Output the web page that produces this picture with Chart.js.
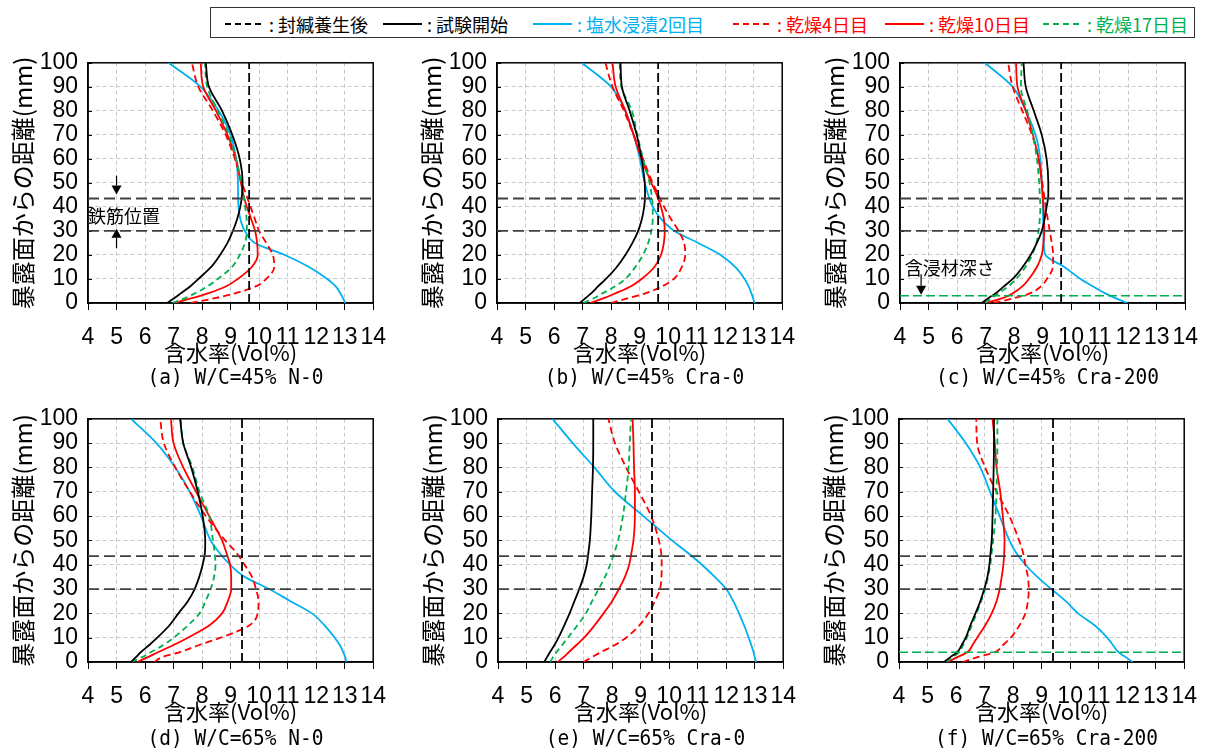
<!DOCTYPE html>
<html lang="ja">
<head>
<meta charset="utf-8">
<title>暴露面からの距離と含水率</title>
<script src="https://cdn.jsdelivr.net/npm/chart.js@4.4.1/dist/chart.umd.min.js"></script>
<style>
  html, body { margin: 0; padding: 0; background: #fff; }
  #page { position: relative; width: 1215px; height: 751px; overflow: hidden; }
  #page canvas { position: absolute; }
  .cap { position: absolute; width: 295px; text-align: center; font: 22px 'DejaVu Sans Mono', monospace;
         line-height: 22px; color: #000; transform: scaleX(0.886); white-space: pre; }
  #legendBox { position: absolute; left: 210px; top: 7px; width: 983px; height: 29px; border: 1.5px solid #333; }
  .item { position: absolute; top: 9px; height: 30px; display: flex; align-items: center;
          font: 18px 'Noto Sans CJK JP', sans-serif; white-space: nowrap; }
  .swatch { display: inline-block; width: 39px; height: 2px; margin-right: 5px; }
  .colon { margin-right: 4px; }
</style>
</head>
<body>
<div id="page">
  <div id="legendBox"></div>
</div>
<script>
/* 含水率分布 — 6 panels, depth (mm) vs moisture (Vol%) */

const DEPTH = [0, 2, 4, 7, 10, 15, 20, 25, 30, 35, 40, 45, 50, 60, 70, 80, 90, 100];
const X_MIN = 4, X_MAX = 14;
const Y_MIN = 0, Y_MAX = 100;

const SERIES_NAMES = ['封緘養生後', '試験開始', '塩水浸漬2回目', '乾燥4日目', '乾燥10日目', '乾燥17日目'];
const CAPTIONS = ['(a) W/C=45% N-0', '(b) W/C=45% Cra-0', '(c) W/C=45% Cra-200',
                  '(d) W/C=65% N-0', '(e) W/C=65% Cra-0', '(f) W/C=65% Cra-200'];
const SEALED = [9.65, 9.65, 9.65, 9.4, 9.4, 9.4];     // 封緘養生後 (uniform)
const REBAR = [30, 43.5];                             // 鉄筋位置
const IMPREG = [null, null, 3, null, null, 4];        // 含浸材深さ

// (a) W/C=45% N-0
const startA = [6.77, 7.02, 7.25, 7.59, 7.87, 8.32, 8.63, 8.89, 9.08, 9.23, 9.34, 9.40, 9.42, 9.32, 9.06, 8.70, 8.24, 8.13];
const saltA  = [13.02, 12.94, 12.85, 12.68, 12.39, 11.75, 10.9, 9.85, 9.5, 9.34, 9.28, 9.26, 9.26, 9.19, 9.0, 8.58, 7.95, 6.82];
const dry4A  = [7.6, 8.45, 9.15, 9.9, 10.25, 10.53, 10.48, 10.25, 10.0, 9.85, 9.70, 9.55, 9.40, 9.15, 8.83, 8.38, 7.87, 7.64];
const dry10A = [7.02, 7.65, 8.2, 8.85, 9.25, 9.74, 9.95, 9.93, 9.86, 9.72, 9.57, 9.45, 9.36, 9.19, 8.89, 8.49, 8.04, 7.95];
const dry17A = [6.96, 7.4, 7.75, 8.2, 8.55, 9.05, 9.32, 9.50, 9.57, 9.56, 9.51, 9.45, 9.38, 9.19, 8.94, 8.55, 8.18, 8.10];

// (b) W/C=45% Cra-0
const startB = [6.90, 7.1, 7.3, 7.55, 7.82, 8.2, 8.50, 8.75, 8.95, 9.08, 9.16, 9.19, 9.18, 9.07, 8.90, 8.65, 8.38, 8.33];
const saltB  = [13.03, 12.98, 12.92, 12.82, 12.68, 12.35, 11.84, 11.05, 10.22, 9.75, 9.46, 9.3, 9.18, 9.01, 8.79, 8.5, 8.0, 6.97];
const dry4B  = [7.99, 8.6, 9.2, 9.8, 10.2, 10.48, 10.6, 10.56, 10.37, 10.1, 9.86, 9.66, 9.46, 9.12, 8.79, 8.45, 8.05, 7.80];
const dry10B = [7.26, 7.75, 8.15, 8.7, 9.07, 9.52, 9.75, 9.85, 9.88, 9.85, 9.75, 9.6, 9.41, 9.07, 8.79, 8.50, 8.16, 8.05];
const dry17B = [7.03, 7.4, 7.7, 8.15, 8.50, 8.85, 9.12, 9.3, 9.41, 9.46, 9.46, 9.42, 9.35, 9.12, 8.92, 8.73, 8.36, 8.30];

// (c) W/C=45% Cra-200
const startC = [6.86, 7.1, 7.35, 7.65, 7.95, 8.3, 8.58, 8.8, 8.97, 9.07, 9.14, 9.2, 9.20, 9.14, 8.97, 8.69, 8.41, 8.33];
const saltC  = [11.97, 11.55, 11.2, 10.75, 10.33, 9.76, 9.1, 9.04, 9.03, 9.02, 9.01, 9.0, 8.97, 8.92, 8.75, 8.41, 7.95, 6.97];
const dry4C  = [7.28, 8.0, 8.55, 8.95, 9.15, 9.36, 9.37, 9.32, 9.25, 9.18, 9.11, 9.05, 8.99, 8.86, 8.63, 8.29, 7.95, 7.79];
const dry10C = [6.99, 7.6, 7.95, 8.3, 8.52, 8.8, 8.97, 9.03, 9.06, 9.05, 9.03, 9.0, 8.97, 8.86, 8.66, 8.41, 8.12, 8.07];
const dry17C = [6.99, 7.2, 7.45, 7.8, 8.07, 8.4, 8.63, 8.78, 8.86, 8.9, 8.92, 8.9, 8.88, 8.80, 8.66, 8.46, 8.24, 8.27];

// (d) W/C=65% N-0
const startD = [5.51, 5.68, 5.85, 6.15, 6.43, 6.85, 7.17, 7.5, 7.74, 7.9, 8.02, 8.1, 8.11, 8.02, 7.85, 7.62, 7.34, 7.23];
const saltD  = [13.06, 13.02, 12.95, 12.83, 12.65, 12.3, 11.85, 11.1, 10.35, 9.49, 8.98, 8.6, 8.30, 7.96, 7.57, 7.06, 6.40, 5.51];
const dry4D  = [6.32, 6.6, 7.2, 7.9, 8.65, 9.65, 9.95, 9.98, 9.89, 9.75, 9.49, 9.2, 8.81, 8.13, 7.57, 7.06, 6.66, 6.53];
const dry10D = [5.73, 6.1, 6.45, 7.0, 7.5, 8.25, 8.70, 8.9, 9.02, 9.02, 8.98, 8.85, 8.70, 8.25, 7.79, 7.34, 7.0, 6.91];
const dry17D = [5.53, 5.9, 6.2, 6.65, 7.0, 7.5, 7.91, 8.12, 8.30, 8.42, 8.47, 8.44, 8.38, 8.25, 7.91, 7.66, 7.34, 7.25];

// (e) W/C=65% Cra-0
const startE = [5.62, 5.72, 5.82, 5.98, 6.12, 6.32, 6.51, 6.68, 6.85, 7.0, 7.11, 7.17, 7.22, 7.27, 7.30, 7.33, 7.34, 7.34];
const saltE  = [13.05, 13.0, 12.96, 12.88, 12.79, 12.63, 12.45, 12.25, 12.0, 11.6, 11.15, 10.64, 10.1, 9.1, 8.1, 7.38, 6.62, 5.91];
const dry4E  = [7.0, 7.3, 7.6, 8.1, 8.49, 8.95, 9.28, 9.5, 9.68, 9.73, 9.74, 9.72, 9.64, 9.37, 8.94, 8.49, 8.1, 7.87];
const dry10E = [6.09, 6.3, 6.48, 6.75, 7.02, 7.38, 7.70, 8.0, 8.24, 8.45, 8.6, 8.68, 8.75, 8.80, 8.80, 8.77, 8.75, 8.72];
const dry17E = [5.83, 5.93, 6.05, 6.25, 6.45, 6.78, 7.08, 7.3, 7.53, 7.75, 7.93, 8.08, 8.21, 8.38, 8.49, 8.58, 8.62, 8.66];

// (f) W/C=65% Cra-200
const startF = [5.58, 5.8, 6.04, 6.2, 6.34, 6.5, 6.68, 6.85, 6.99, 7.1, 7.17, 7.21, 7.25, 7.28, 7.30, 7.32, 7.33, 7.33];
const saltF  = [12.19, 11.95, 11.7, 11.5, 11.3, 10.87, 10.28, 9.85, 9.34, 8.85, 8.43, 8.1, 7.87, 7.53, 7.19, 6.85, 6.34, 5.70];
const dry4F  = [6.23, 6.75, 7.35, 7.65, 7.92, 8.22, 8.43, 8.52, 8.55, 8.52, 8.43, 8.35, 8.21, 7.87, 7.42, 7.02, 6.74, 6.71];
const dry10F = [5.72, 6.05, 6.40, 6.58, 6.74, 7.02, 7.25, 7.42, 7.53, 7.6, 7.66, 7.69, 7.70, 7.64, 7.55, 7.42, 7.36, 7.28];
const dry17F = [5.66, 5.88, 6.1, 6.25, 6.38, 6.55, 6.72, 6.88, 7.02, 7.12, 7.2, 7.25, 7.3, 7.38, 7.42, 7.44, 7.45, 7.45];

const COLORS = { black: '#000000', cyan: '#00b0f0', red: '#ff0000', green: '#00b050', rebar: '#404040' };

// plot boxes (left/top of the plot area, height)
const PANELS = [
  { start: startA, salt: saltA, dry4: dry4A, dry10: dry10A, dry17: dry17A, left: 88,  top: 53,  h: 250 },
  { start: startB, salt: saltB, dry4: dry4B, dry10: dry10B, dry17: dry17B, left: 497, top: 53,  h: 250 },
  { start: startC, salt: saltC, dry4: dry4C, dry10: dry10C, dry17: dry17C, left: 900, top: 53,  h: 250 },
  { start: startD, salt: saltD, dry4: dry4D, dry10: dry10D, dry17: dry17D, left: 88,  top: 409, h: 253 },
  { start: startE, salt: saltE, dry4: dry4E, dry10: dry10E, dry17: dry17E, left: 498, top: 409, h: 253 },
  { start: startF, salt: saltF, dry4: dry4F, dry10: dry10F, dry17: dry17F, left: 899, top: 409, h: 253 },
];
const PLOT_W = 295, Y_AXIS_W = 88, X_AXIS_H = 62, PAD_TOP = 14, PAD_RIGHT = 17;

const page = document.getElementById('page');

/* ---- legend ---- */
const LEGEND = [
  { name: SERIES_NAMES[0], color: COLORS.black, text: '#000', dashed: true,  x: 225 },
  { name: SERIES_NAMES[1], color: COLORS.black, text: '#000', dashed: false, x: 383 },
  { name: SERIES_NAMES[2], color: COLORS.cyan,  text: COLORS.cyan,  dashed: false, x: 533 },
  { name: SERIES_NAMES[3], color: COLORS.red,   text: COLORS.red,   dashed: true,  x: 733 },
  { name: SERIES_NAMES[4], color: COLORS.red,   text: COLORS.red,   dashed: false, x: 885 },
  { name: SERIES_NAMES[5], color: COLORS.green, text: COLORS.green, dashed: true,  x: 1043 },
];
LEGEND.forEach(it => {
  const d = document.createElement('div');
  d.className = 'item';
  d.style.left = it.x + 'px';
  d.style.color = it.text;
  const sw = document.createElement('span');
  sw.className = 'swatch';
  sw.style.background = it.dashed
    ? `repeating-linear-gradient(90deg, ${it.color} 0 6px, transparent 6px 10px)`
    : it.color;
  const colon = document.createElement('span');
  colon.className = 'colon';
  colon.textContent = ':';
  const label = document.createElement('span');
  label.textContent = it.name;
  d.append(sw, colon, label);
  page.appendChild(d);
});

/* ---- helpers ---- */
const toPoints = vals => DEPTH.map((d, i) => ({ x: vals[i], y: d }));

function curve(label, vals, color, dash) {
  return { label, data: toPoints(vals), borderColor: color, borderWidth: 1.8, borderDash: dash || [],
           pointRadius: 0, cubicInterpolationMode: 'monotone', fill: false };
}
function guide(label, pts, color, dash, width) {
  return { label, data: pts, borderColor: color, borderWidth: width, borderDash: dash,
           pointRadius: 0, tension: 0, fill: false };
}

// plot frame + short inward ticks on the y axis
const frame = {
  id: 'frame',
  beforeDatasetsDraw(chart) {
    const { ctx, chartArea: a, scales: { y } } = chart;
    ctx.save();
    ctx.strokeStyle = '#000';
    ctx.lineWidth = 1.5;
    ctx.strokeRect(a.left, a.top, a.right - a.left, a.bottom - a.top);
    ctx.lineWidth = 1;
    ctx.beginPath();
    y.ticks.forEach(t => {
      const py = Math.round(y.getPixelForValue(t.value)) + 0.5;
      ctx.moveTo(a.left, py);
      ctx.lineTo(a.left + 4, py);
    });
    ctx.stroke();
    ctx.restore();
  }
};

function arrow(ctx, x, yFrom, yTip) {
  const dir = yTip > yFrom ? 1 : -1;
  const headH = 9, headW = 5;
  ctx.beginPath();
  ctx.moveTo(x, yFrom);
  ctx.lineTo(x, yTip - dir * headH);
  ctx.stroke();
  ctx.beginPath();
  ctx.moveTo(x, yTip);
  ctx.lineTo(x - headW, yTip - dir * headH);
  ctx.lineTo(x + headW, yTip - dir * headH);
  ctx.closePath();
  ctx.fill();
}

// notes: text position and arrows in data units
const NOTES = {
  0: { text: '鉄筋位置', tx: 4.0, ty: 36.1, arrows: [[5, 53, 45.2], [5, 22.8, 30.9]] },
  2: { text: '含浸材深さ', tx: 4.17, ty: 14.5, arrows: [[4.74, 12, 3.4]] },
};

function notePlugin(note) {
  return {
    id: 'note',
    afterDatasetsDraw(chart) {
      const { ctx, scales: { x, y } } = chart;
      ctx.save();
      ctx.fillStyle = '#000';
      ctx.strokeStyle = '#000';
      ctx.lineWidth = 1.2;
      ctx.font = "18px 'Noto Sans CJK JP', sans-serif";
      ctx.textAlign = 'left';
      ctx.textBaseline = 'middle';
      ctx.fillText(note.text, x.getPixelForValue(note.tx), y.getPixelForValue(note.ty));
      note.arrows.forEach(([ax, y0, y1]) => arrow(ctx, x.getPixelForValue(ax), y.getPixelForValue(y0), y.getPixelForValue(y1)));
      ctx.restore();
    }
  };
}

/* ---- panels ---- */
PANELS.forEach((p, i) => {
  const cv = document.createElement('canvas');
  const w = Y_AXIS_W + PLOT_W + PAD_RIGHT;
  const h = PAD_TOP + p.h + X_AXIS_H;
  cv.width = w; cv.height = h;
  cv.style.left = (p.left - Y_AXIS_W) + 'px';
  cv.style.top = (p.top - PAD_TOP) + 'px';
  cv.style.width = w + 'px'; cv.style.height = h + 'px';
  page.appendChild(cv);

  const cap = document.createElement('div');
  cap.className = 'cap';
  cap.textContent = CAPTIONS[i];
  cap.style.left = p.left + 'px';
  cap.style.top = (p.top + p.h + (i < 3 ? 63 : 65)) + 'px';
  page.appendChild(cap);

  const datasets = [
    guide(SERIES_NAMES[0], [{ x: SEALED[i], y: Y_MIN }, { x: SEALED[i], y: Y_MAX }], COLORS.black, [9, 4], 1.8),
  ];
  REBAR.forEach(r => datasets.push(guide('鉄筋位置', [{ x: X_MIN, y: r }, { x: X_MAX, y: r }], COLORS.rebar, [11, 5], 1.8)));
  if (IMPREG[i] !== null) {
    datasets.push(guide('含浸材深さ', [{ x: X_MIN, y: IMPREG[i] }, { x: X_MAX, y: IMPREG[i] }], COLORS.green, [9, 4], 1.5));
  }
  datasets.push(
    curve(SERIES_NAMES[1], p.start, COLORS.black),
    curve(SERIES_NAMES[5], p.dry17, COLORS.green, [6, 4]),
    curve(SERIES_NAMES[4], p.dry10, COLORS.red),
    curve(SERIES_NAMES[3], p.dry4, COLORS.red, [7, 4]),
    curve(SERIES_NAMES[2], p.salt, COLORS.cyan),
  );

  const tickFont = { family: "'Liberation Sans', Arial, sans-serif", size: 23 };
  const cjkFont = size => ({ family: "'Noto Sans CJK JP', sans-serif", size, lineHeight: 1 });

  new Chart(cv, {
    type: 'line',
    data: { datasets },
    options: {
      responsive: false,
      animation: false,
      indexAxis: 'y',
      layout: { padding: { top: PAD_TOP, right: PAD_RIGHT, bottom: 0, left: 0 } },
      plugins: { legend: { display: false }, tooltip: { enabled: false } },
      scales: {
        x: {
          type: 'linear', min: X_MIN, max: X_MAX,
          ticks: { stepSize: 1, autoSkip: false, maxRotation: 0, minRotation: 0, color: '#000', font: tickFont, padding: 14 },
          grid: { color: '#c8c8c8', lineWidth: 1, tickColor: '#000', tickLength: 7, tickBorderDash: [] },
          border: { color: '#000', width: 1.5, dash: [4, 3] },
          title: { display: true, text: '含水率(Vol%)', color: '#000', font: cjkFont(22), padding: { top: 0, bottom: 1 } },
          afterFit: s => { s.height = X_AXIS_H; }
        },
        y: {
          type: 'linear', min: Y_MIN, max: Y_MAX,
          ticks: { stepSize: 10, autoSkip: false, color: '#000', font: tickFont, padding: 10 },
          grid: { color: '#c8c8c8', lineWidth: 1, drawTicks: false },
          border: { color: '#000', width: 1.5, dash: [4, 3] },
          title: { display: true, text: '暴露面からの距離(mm)', color: '#000', font: cjkFont(24), padding: { top: 11, bottom: 0 } },
          afterFit: s => { s.width = Y_AXIS_W; }
        }
      }
    },
    plugins: NOTES[i] ? [frame, notePlugin(NOTES[i])] : [frame]
  });
});
</script>
</body>
</html>
